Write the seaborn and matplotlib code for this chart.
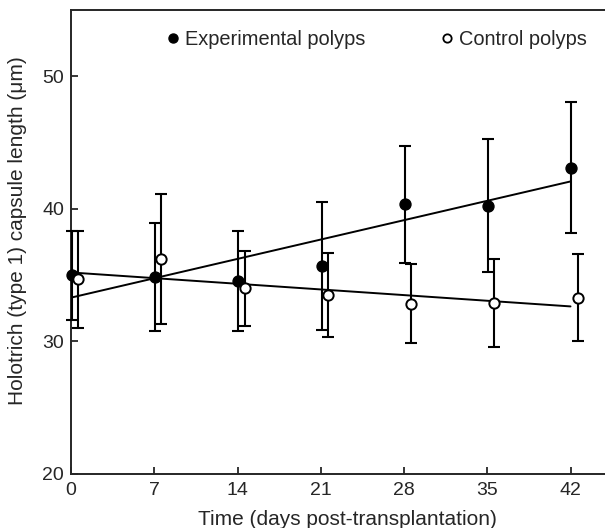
import matplotlib
matplotlib.use("Agg")
import matplotlib.pyplot as plt
import seaborn as sns
import pandas as pd
from matplotlib.lines import Line2D

# valores
dias = [0, 7, 14, 21, 28, 35, 42]
exp_media = [35.0, 34.85, 34.55, 35.7, 40.35, 40.25, 43.1]
exp_erro = [3.35, 4.05, 3.8, 4.85, 4.4, 5.05, 4.95]
ctrl_media = [34.7, 36.2, 34.0, 33.5, 32.85, 32.9, 33.3]
ctrl_erro = [3.65, 4.9, 2.85, 3.15, 3.0, 3.35, 3.3]

df_exp = pd.DataFrame({"dia": dias, "comprimento": exp_media})
df_ctrl = pd.DataFrame({"dia": dias, "comprimento": ctrl_media})

sns.set_style("ticks")
plt.rcParams["font.family"] = ["Liberation Sans", "DejaVu Sans"]
plt.rcParams["xtick.direction"] = "in"
plt.rcParams["ytick.direction"] = "in"

fig = plt.figure(figsize=(6.05, 5.28), dpi=100)
ax = fig.add_axes([71 / 605, 54 / 528, 534 / 605, 464 / 528])

# retas de regressão
sns.regplot(data=df_exp, x="dia", y="comprimento", ax=ax, scatter=False, ci=None,
            truncate=True, line_kws={"color": "black", "lw": 1.4, "zorder": 2})
sns.regplot(data=df_ctrl, x="dia", y="comprimento", ax=ax, scatter=False, ci=None,
            truncate=True, line_kws={"color": "black", "lw": 1.4, "zorder": 2})

# pontos deslocados para não sobrepor
x_exp = [d + 0.08 for d in dias]
x_ctrl = [d + 0.6 for d in dias]

for xs, ys, es in [(x_exp, exp_media, exp_erro), (x_ctrl, ctrl_media, ctrl_erro)]:
    eb = ax.errorbar(xs, ys, yerr=es, fmt="none", ecolor="black",
                     elinewidth=1.5, capsize=4.5, capthick=1.5, zorder=3)
    for art in eb.lines[1] + eb.lines[2]:
        art.set_clip_on(False)

sns.scatterplot(x=x_exp, y=exp_media, ax=ax, marker="o", s=62, color="black",
                edgecolor="black", linewidth=1, zorder=4, clip_on=False)
sns.scatterplot(x=x_ctrl, y=ctrl_media, ax=ax, marker="o", s=55, color="white",
                edgecolor="black", linewidth=1.4, zorder=4, clip_on=False)

ax.set_xlim(0, 44.9)
ax.set_ylim(20, 55)
ax.set_xticks(dias)
ax.set_yticks([20, 30, 40, 50])
ax.tick_params(labelsize=14, length=5, width=1.3)
ax.tick_params(axis="x", pad=6)
ax.tick_params(axis="y", pad=5)
for s in ["left", "bottom", "top"]:
    ax.spines[s].set_linewidth(1.4)
ax.spines["right"].set_visible(False)

ax.set_xlabel("Time (days post-transplantation)", fontsize=15)
ax.set_ylabel("Holotrich (type 1) capsule length (μm)", fontsize=15)
ax.xaxis.set_label_coords(0.518, -0.077)
ax.yaxis.set_label_coords(-0.082, 0.524)

handles = [
    Line2D([], [], marker="o", ls="none", color="black", markersize=6.5),
    Line2D([], [], marker="o", ls="none", markerfacecolor="white",
           markeredgecolor="black", markeredgewidth=1.3, markersize=6),
]
ax.legend(handles, ["Experimental polyps", "Control polyps"], ncol=2, frameon=False,
          loc="upper right", bbox_to_anchor=(1.0, 0.995), fontsize=14.4,
          handletextpad=0.1, columnspacing=3.6, handlelength=1.0)

fig.savefig("out.png", dpi=100)
